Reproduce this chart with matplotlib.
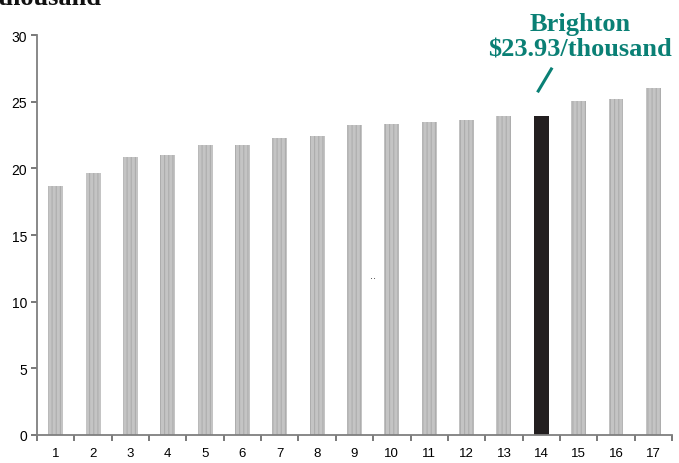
import matplotlib.pyplot as plt
import numpy as np

categories = [str(i) for i in range(1, 18)]
values = [18.67, 19.63, 20.82, 20.97, 21.72, 21.72, 22.25, 22.40, 23.22,
          23.30, 23.45, 23.60, 23.90, 23.93, 25.02, 25.17, 25.99]
highlight = '14'
yticks = [0, 5, 10, 15, 20, 25, 30]

TEAL = '#0a8075'
plt.rcParams['font.family'] = ['Liberation Sans', 'DejaVu Sans']
plt.rcParams['hatch.linewidth'] = 0.8


def plot():
    fig = plt.figure(figsize=(6.79, 4.64), dpi=100)
    ax = fig.add_axes([37 / 679, 28 / 464, 635 / 679, 400 / 464])

    x = np.arange(1, len(categories) + 1)
    for xi, cat, v in zip(x, categories, values):
        if cat == highlight:
            ax.bar(xi, v, width=0.4, color='#231f20', linewidth=0)
        else:
            ax.bar(xi, v, width=0.4, facecolor='#c4c4c4', edgecolor='#adadad',
                   hatch='||||', linewidth=0)

    ax.set_xlim(0.5, len(categories) + 0.5)
    ax.set_ylim(0, 30)
    ax.set_yticks(yticks)
    ax.set_xticks(x)
    ax.set_xticklabels(categories)
    ax.set_xticks(np.arange(0.5, len(categories) + 1), minor=True)

    for s in ['top', 'right']:
        ax.spines[s].set_visible(False)
    for s in ['left', 'bottom']:
        ax.spines[s].set_color('#7f7f7f')
        ax.spines[s].set_linewidth(1.3)

    ax.tick_params(axis='x', which='major', length=0, pad=9, labelsize=9.5)
    ax.tick_params(axis='x', which='minor', length=4, width=1.1, color='#555555')
    ax.tick_params(axis='y', length=4, width=1.1, color='#555555', pad=3, labelsize=10)

    # annotation for Brighton
    bx = x[categories.index(highlight)]
    ax.text(bx + 1.04, 28.1, 'Brighton\n$23.93/thousand', ha='center', va='bottom',
            color=TEAL, fontsize=19, fontweight='bold', family='Liberation Serif',
            linespacing=1.12, clip_on=False)
    ax.plot([bx + 0.27, bx - 0.08], [27.45, 25.8], color=TEAL, linewidth=2.2,
            clip_on=False)

    # stray mark in original
    ax.text(9.5, 11.8, '..', ha='center', fontsize=8, color='#333333')

    # clipped title at top-left
    fig.text(-0.003, 1 - 5 / 464, 'thousand', ha='left', va='baseline', fontsize=19,
             fontweight='bold', family='Liberation Serif', color='#111111')

    fig.savefig('out.png', dpi=100)
    plt.close(fig)


if __name__ == '__main__':
    plot()
